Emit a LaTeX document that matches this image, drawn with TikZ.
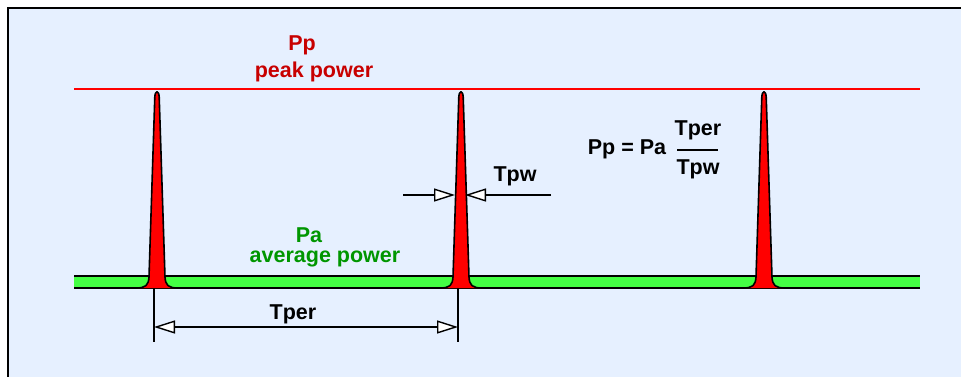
\documentclass[tikz,border=0pt]{standalone}
\usepackage{fontspec}
\setmainfont{Liberation Sans}
\usetikzlibrary{arrows.meta}
\definecolor{bgblue}{RGB}{230,240,255}
\definecolor{peakred}{RGB}{200,0,0}
\definecolor{avggreen}{RGB}{0,150,0}
\definecolor{barGreen}{RGB}{68,255,68}
\tikzset{
  lbl/.style={font=\bfseries\fontsize{21.5}{23}\selectfont, inner sep=0pt, anchor=center},
  dimline/.style={line width=1.5pt, black},
  dimtip/.style={-{Triangle[length=21pt,width=13pt,fill=white,line width=1.4pt]}},
  pulse/.style={fill=red, draw=black, line width=1.6pt, line join=round},
}
\begin{document}
\begin{tikzpicture}[x=1pt,y=-1pt]
\useasboundingbox (0,0) rectangle (961,376);
\clip (0,0) rectangle (961,376);
% frame
\draw[line width=2pt, fill=bgblue] (8,8) rectangle (975,390);
% peak power line
\draw[red, line width=2pt] (74,89) -- (920,89);
% average power bar
\fill[barGreen] (74,276) rectangle (920,287);
\draw[line width=2pt] (74,276) -- (920,276);
\draw[line width=2pt] (74,287.5) -- (920,287.5);
% pulses
\foreach \c in {157,461,764}{
  \draw[pulse] (\c-21,288) .. controls (\c-11,288) and (\c-8.5,285) .. (\c-8,277)
    -- (\c-2.2,97) .. controls (\c-1.8,90) and (\c+1.8,90) .. (\c+2.2,97)
    -- (\c+8,277) .. controls (\c+8.5,285) and (\c+11,288) .. (\c+21,288);
}
% labels
\node[lbl, text=peakred] (pp) at (302,45) {Pp};
\node[lbl, text=peakred] (ppl) at (314,72) {peak power};
\node[lbl, text=avggreen] (pa) at (309,235) {Pa};
\node[lbl, text=avggreen] (pal) at (325,259) {average power};
% Tper dimension
\coordinate (t1a) at (154,288);
\coordinate (t1b) at (154,342);
\coordinate (t2a) at (458,288);
\coordinate (t2b) at (458,342);
\draw[dimline] (t1a) -- (t1b);
\draw[dimline] (t2a) -- (t2b);
\coordinate (tpL) at (154,327);
\coordinate (tpR) at (458,327);
\coordinate (tpM) at (306,327);
\draw[dimline, dimtip] (tpM) -- (tpL);
\draw[dimline, dimtip] (tpM) -- (tpR);
\node[lbl] (tper) at (293,314) {Tper};
% Tpw dimension
\coordinate (wl0) at (403,195);
\coordinate (wl1) at (455,195);
\coordinate (wr0) at (551,195);
\coordinate (wr1) at (465,195);
\draw[dimline, dimtip] (wl0) -- (wl1);
\draw[dimline, dimtip] (wr0) -- (wr1);
\node[lbl] (tpw) at (515,176) {Tpw};
% formula
\node[lbl] (eq) at (627,149) {Pp = Pa};
\node[lbl] (num) at (698,130) {Tper};
\node[lbl] (den) at (698,169) {Tpw};
\coordinate (fl) at (677,150);
\coordinate (fr) at (718,150);
\draw[line width=2pt] (fl) -- (fr);
\end{tikzpicture}
\end{document}
